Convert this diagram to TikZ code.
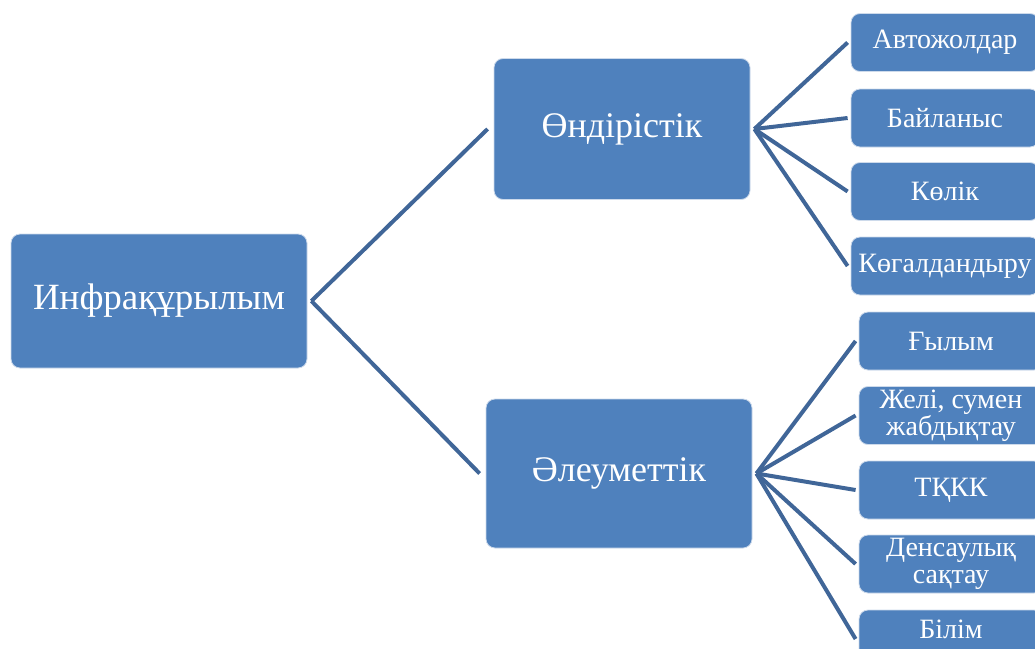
\documentclass[tikz,border=0pt]{standalone}
\usepackage{fontspec}
\setmainfont{Liberation Serif}
\definecolor{boxblue}{RGB}{79,129,189}
\definecolor{edgeblue}{RGB}{205,218,235}
\definecolor{lineblue}{RGB}{64,102,152}
\begin{document}
\begin{tikzpicture}[x=1pt,y=-1pt,
  box/.style={rectangle, rounded corners=9pt, fill=boxblue, draw=edgeblue, line width=0.8pt,
    text=white, align=center, inner sep=0pt},
  rootbox/.style={box, minimum width=296pt, minimum height=134pt, font=\fontsize{37}{39}\selectfont},
  midbox/.style={box, minimum width=256pt, minimum height=141pt, font=\fontsize{36}{38}\selectfont},
  leafbox/.style={box, minimum width=188pt, minimum height=58pt, font=\fontsize{28}{27.5}\selectfont},
  conn/.style={draw=lineblue, line width=4pt}]
\useasboundingbox (0,0) rectangle (1035,648);
\node[rootbox] (root) at (159,301) {Инфрақұрылым};
\node[midbox] (ond) at (622,129) {Өндірістік};
\node[midbox, minimum width=266pt, minimum height=149pt] (ale) at (619,473.5) {Әлеуметтік};
\node[leafbox] (a1) at (945,42.5) {Автожолдар};
\node[leafbox] (a2) at (945,118) {Байланыс};
\node[leafbox] (a3) at (945,191.5) {Көлік};
\node[leafbox] (a4) at (945,266) {Көгалдандыру};
\node[leafbox, minimum width=184pt] (b1) at (951,341) {Ғылым};
\node[leafbox, minimum width=184pt] (b2) at (951,415.5) {Желі, сумен\\жабдықтау};
\node[leafbox, minimum width=184pt] (b3) at (951,490) {ТҚКК};
\node[leafbox, minimum width=184pt] (b4) at (951,564) {Денсаулық\\сақтау};
\node[leafbox, minimum width=184pt] (b5) at (951,639) {};
\node[text=white, font=\fontsize{28}{27.5}\selectfont, inner sep=0pt] (b5t) at (951,629) {Білім};
\draw[conn] ([xshift=4pt]root.east) -- ([xshift=-6pt]ond.west);
\draw[conn] ([xshift=4pt]root.east) -- ([xshift=-6pt]ale.west);
\foreach \c in {a1,a2,a3,a4}
  \draw[conn] ([xshift=4pt]ond.east) -- ([xshift=-3pt]\c.west);
\foreach \c in {b1,b2,b3,b4,b5}
  \draw[conn] ([xshift=4pt]ale.east) -- ([xshift=-3pt]\c.west);
\end{tikzpicture}
\end{document}
